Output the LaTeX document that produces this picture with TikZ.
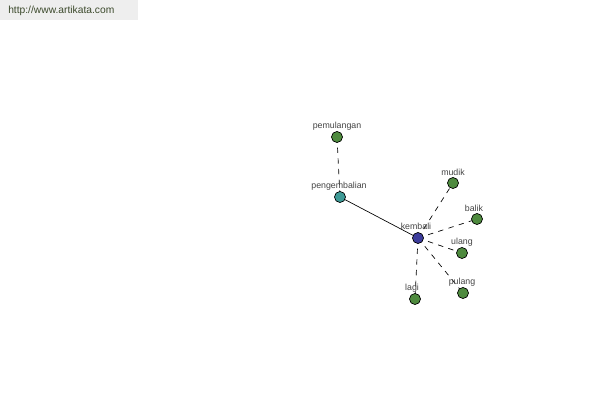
\documentclass[tikz,border=0pt]{standalone}
\usepackage{fontspec}
\setmainfont{Liberation Sans}
\begin{document}
\begin{tikzpicture}[x=0.75pt,y=-0.75pt,
  vert/.style={circle,draw=black,line width=0.5pt,minimum size=8.3pt,inner sep=0pt},
  green/.style={vert,fill=vgreen},
  lbl/.style={font=\fontsize{6.6}{7}\selectfont,text=txtgray,inner sep=0pt},
  dashedge/.style={dashed,dash pattern=on 4pt off 4pt,line width=0.5pt},
  solidedge/.style={line width=0.5pt}]
\definecolor{vgreen}{HTML}{4E8A3E}
\definecolor{vteal}{HTML}{3E9A96}
\definecolor{vblue}{HTML}{3C3C9C}
\definecolor{txtgray}{HTML}{444444}
\definecolor{hdrgray}{HTML}{EEEEEE}
\definecolor{hdrtext}{HTML}{3C4A2C}
\useasboundingbox (0,0) rectangle (600,400);
\fill[white] (0,0) rectangle (600,400);
\fill[hdrgray] (0,0) rectangle (138,20);
\node[anchor=west,inner sep=0pt,font=\fontsize{7.7}{9}\selectfont,text=hdrtext] (url) at (8,11) {http://www.artikata.com};
% coordinates
\coordinate (pPem) at (337,137);
\coordinate (pPen) at (340,197);
\coordinate (pKem) at (418,238);
\coordinate (pMud) at (453,183);
\coordinate (pBal) at (477,219);
\coordinate (pUla) at (462,253);
\coordinate (pLag) at (415,299);
\coordinate (pPul) at (463,293);
% edges
\draw[dashedge] (pPem) -- (pPen);
\draw[solidedge] (pPen) -- (pKem);
\draw[dashedge] (pKem) -- (pMud);
\draw[dashedge] (pKem) -- (pBal);
\draw[dashedge] (pKem) -- (pUla);
\draw[dashedge] (pKem) -- (pLag);
\draw[dashedge] (pKem) -- (pPul);
% vertices
\node[green] (pemulangan) at (pPem) {};
\node[vert,fill=vteal] (pengembalian) at (pPen) {};
\node[vert,fill=vblue] (kembali) at (pKem) {};
\node[green] (mudik) at (pMud) {};
\node[green] (balik) at (pBal) {};
\node[green] (ulang) at (pUla) {};
\node[green] (lagi) at (pLag) {};
\node[green] (pulang) at (pPul) {};
% labels
\node[lbl] (lpem) at (337,126) {pemulangan};
\node[lbl] (lpen) at (339,186) {pengembalian};
\node[lbl] (lkem) at (416,226.5) {kembali};
\node[lbl] (lmud) at (453,172) {mudik};
\node[lbl] (lbal) at (474,208) {balik};
\node[lbl] (lula) at (462,242) {ulang};
\node[lbl] (llag) at (412,288) {lagi};
\node[lbl] (lpul) at (462,282) {pulang};
\end{tikzpicture}
\end{document}
